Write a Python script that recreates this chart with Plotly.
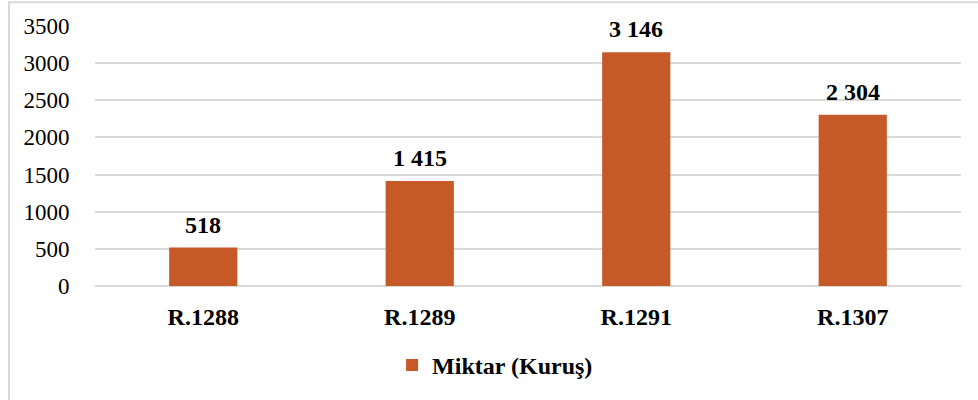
import plotly.graph_objects as go

categories = ["R.1288", "R.1289", "R.1291", "R.1307"]
values = [518, 1415, 3146, 2304]
series_name = "Miktar (Kuruş)"
y_ticks = [0, 500, 1000, 1500, 2000, 2500, 3000, 3500]

labels = [f"{v:,}".replace(",", " ") for v in values]

SERIF = "'Times New Roman', 'Liberation Serif', serif"

fig = go.Figure()
fig.add_trace(go.Bar(
    x=categories, y=values, name=f"<b>{series_name}</b>",
    marker=dict(color="#C55A28", line=dict(width=0)),
    width=0.315,
))

for c, v, t in zip(categories, values, labels):
    fig.add_annotation(x=c, y=v, text=f"<b>{t}</b>", showarrow=False,
                       yanchor="bottom", yshift=8,
                       font=dict(family=SERIF, size=24, color="#000000"))

fig.update_layout(
    width=978, height=400,
    margin=dict(l=95, r=17, t=26, b=112),
    paper_bgcolor="white", plot_bgcolor="white",
    font=dict(family=SERIF, color="#000000"),
    showlegend=True,
    legend=dict(orientation="h", x=0.462, xanchor="center", y=-0.305, yanchor="middle",
                font=dict(family=SERIF, size=24, color="#000000")),
    xaxis=dict(showgrid=False, showline=False, zeroline=False,
               tickfont=dict(family=SERIF, size=24, weight="bold", color="#000000"),
               ticks="outside", ticklen=9, tickcolor="rgba(0,0,0,0)"),
    yaxis=dict(range=[0, 3500], tickvals=y_ticks, showgrid=True, gridcolor="#D9D9D9",
               gridwidth=2, zeroline=True, zerolinecolor="#D9D9D9", zerolinewidth=2,
               showline=False,
               tickfont=dict(family=SERIF, size=23, color="#000000"),
               ticks="outside", ticklen=20, tickcolor="rgba(0,0,0,0)"),
    bargap=0.685,
    shapes=[dict(type="rect", xref="paper", yref="paper",
                 x0=(9 - 95) / 866, x1=1.1, y0=-0.6, y1=(288 - 2) / 262,
                 line=dict(color="#D9D9D9", width=2), layer="below")],
)

fig.write_html("out.html", config={"displayModeBar": False},
               post_script="document.body.style.margin='0';")
